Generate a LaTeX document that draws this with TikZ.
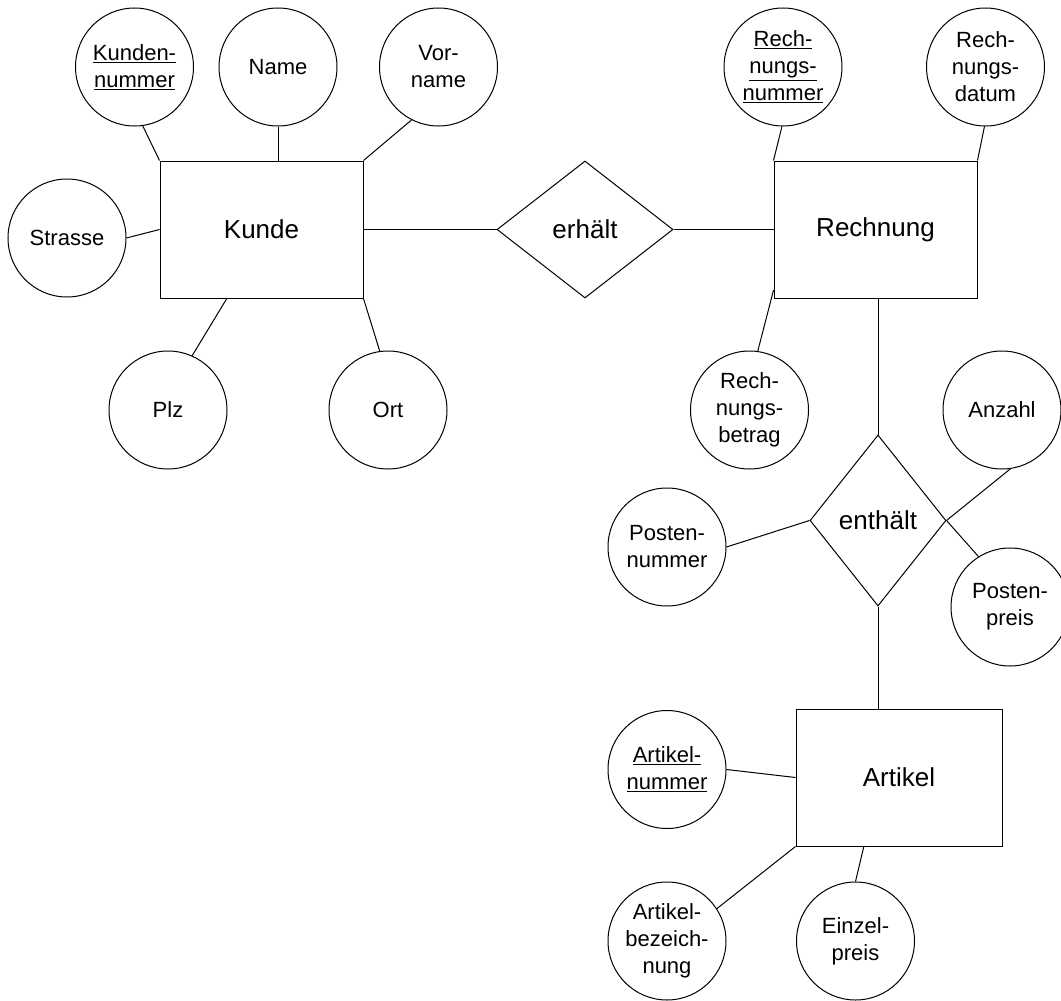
\documentclass[tikz,border=0pt]{standalone}
\usepackage{fontspec}
\setmainfont{Liberation Sans}
\usetikzlibrary{shapes.geometric,calc}
\begin{document}
\begin{tikzpicture}[x=1pt,y=-1pt,line width=1pt,
  attr/.style={draw,circle,minimum size=118pt,inner sep=0pt,align=center,font=\fontsize{22}{27}\selectfont},
  entity/.style={draw,rectangle,minimum width=203pt,minimum height=137pt,inner sep=0pt,font=\fontsize{26}{31}\selectfont},
  rel/.style={draw,diamond,inner sep=0pt,font=\fontsize{26}{31}\selectfont},
  conn/.style={draw}]
\useasboundingbox (0,0) rectangle (1061,1001);

% entities
\node[entity] (kunde) at (261.5,229.5) {Kunde};
\node[entity] (rechnung) at (875.5,229.5) {Rechnung};
\node[entity,minimum width=206pt] (artikel) at (899,777.5) {Artikel};

% relationships
\node[rel,minimum width=176pt,minimum height=137pt] (erhalt) at (585,229.5) {erhält};
\node[rel,minimum width=136pt,minimum height=171pt] (enthalt) at (878,520.5) {enthält};

% attributes
\node[attr] (kdnr) at (134.5,67) {\underline{Kunden-}\\\underline{nummer}};
\node[attr] (name) at (278,67) {Name};
\node[attr] (vorname) at (438.5,67) {Vor-\\name};
\node[attr] (strasse) at (67,238) {Strasse};
\node[attr] (plz) at (168,410) {Plz};
\node[attr] (ort) at (388,410) {Ort};
\node[attr] (renr) at (783,67) {\underline{Rech-}\\\underline{nungs-}\\\underline{nummer}};
\node[attr] (redat) at (985.5,67) {Rech-\\nungs-\\datum};
\node[attr] (rebet) at (749.5,410) {Rech-\\nungs-\\betrag};
\node[attr] (anzahl) at (1002,410) {Anzahl};
\node[attr] (ponr) at (667,547) {Posten-\\nummer};
\node[attr] (popreis) at (1010,607) {Posten-\\preis};
\node[attr] (artnr) at (667,769.5) {\underline{Artikel-}\\\underline{nummer}};
\node[attr] (artbez) at (667,941) {Artikel-\\bezeich-\\nung};
\node[attr] (epreis) at (855.5,941) {Einzel-\\preis};

% connectors
\draw[conn] (kdnr.-82) -- (kunde.north west);
\draw[conn] (name.south) -- (kunde.north -| name.south);
\draw[conn] (vorname.-117) -- (kunde.north east);
\draw[conn] (strasse.0) -- (kunde.west);
\draw[conn] (plz.66.6) -- ($(kunde.south west)!0.33!(kunde.south east)$);
\draw[conn] (ort.98.5) -- (kunde.south east);
\draw[conn] (kunde.east) -- (erhalt.west);
\draw[conn] (erhalt.east) -- (rechnung.west);
\draw[conn] (renr.-91) -- (rechnung.north west);
\draw[conn] (redat.-91.4) -- (rechnung.north east);
\draw[conn] (rebet.82) -- ($(rechnung.south west)!0.06!(rechnung.north west)$);
\draw[conn] (enthalt.north) -- (enthalt.north |- rechnung.south);
\draw[conn] (enthalt.south) -- (enthalt.south |- artikel.north);
\draw[conn] (anzahl.-82) -- (enthalt.east);
\draw[conn] (popreis.122) -- (enthalt.east);
\draw[conn] (ponr.0) -- (enthalt.west);
\draw[conn] (artnr.0) -- (artikel.west);
\draw[conn] (artbez.33.7) -- (artikel.south west);
\draw[conn] (epreis.90) -- ($(artikel.south west)!0.33!(artikel.south east)$);
\end{tikzpicture}
\end{document}
